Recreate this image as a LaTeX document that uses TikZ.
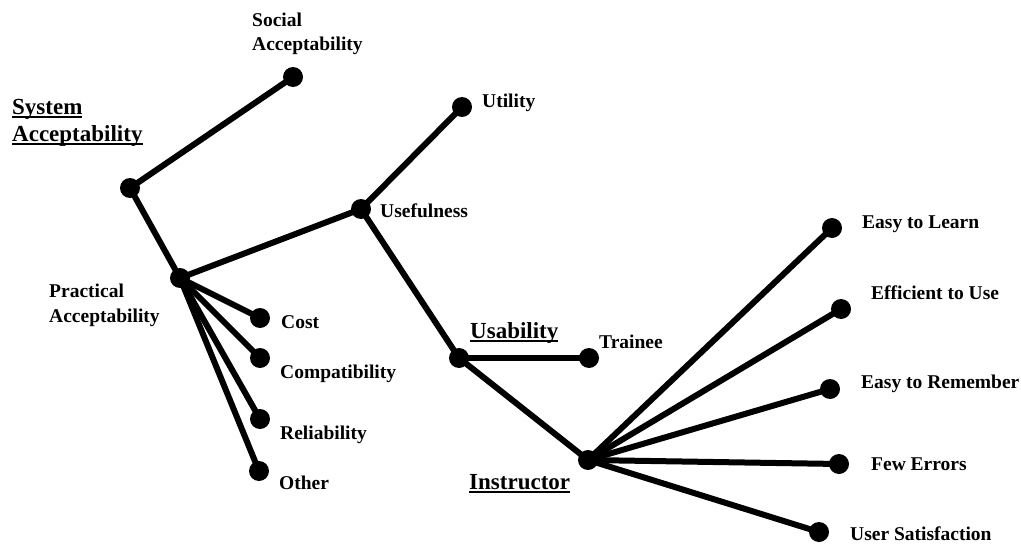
\documentclass[tikz,border=0pt]{standalone}
\usepackage{fontspec}
\setmainfont{Liberation Serif}
\newcommand{\lblfont}{\fontsize{19.5pt}{23pt}\selectfont\bfseries}
\newcommand{\ttlfont}{\fontsize{23pt}{27pt}\selectfont\bfseries}
\newcommand{\ulin}[1]{\setbox0\hbox{#1}\rlap{\rule[-3.5pt]{\wd0}{2pt}}\box0}
\tikzset{
  dot/.style={circle, fill=black, inner sep=0pt, minimum size=20pt},
  lbl/.style={anchor=base west, inner sep=0pt, font=\lblfont},
  ttl/.style={anchor=base west, inner sep=0pt, font=\ttlfont},
  conn/.style={line width=6pt, black}
}
\begin{document}
\begin{tikzpicture}[x=1pt,y=-1pt]
\useasboundingbox (0,0) rectangle (1021,546);
% dots
\node[dot] (root) at (130,188) {};
\node[dot] (social) at (293,77) {};
\node[dot] (prac) at (180,278) {};
\node[dot] (usef) at (361,209) {};
\node[dot] (util) at (462,107) {};
\node[dot] (cost) at (260,318) {};
\node[dot] (compat) at (260,358) {};
\node[dot] (rel) at (260,419) {};
\node[dot] (other) at (259,471) {};
\node[dot] (usab) at (459,358) {};
\node[dot] (train) at (589,358) {};
\node[dot] (instr) at (588,460) {};
\node[dot] (learn) at (832,228) {};
\node[dot] (eff) at (841,309) {};
\node[dot] (rem) at (830,389) {};
\node[dot] (few) at (839,464) {};
\node[dot] (sat) at (819,532) {};
% connectors
\draw[conn] (root.center) -- (social.center);
\draw[conn] (root.center) -- (prac.center);
\draw[conn] (prac.center) -- (usef.center);
\draw[conn] (usef.center) -- (util.center);
\draw[conn] (prac.center) -- (cost.center);
\draw[conn] (prac.center) -- (compat.center);
\draw[conn] (prac.center) -- (rel.center);
\draw[conn] (prac.center) -- (other.center);
\draw[conn] (usef.center) -- (usab.center);
\draw[conn] (usab.center) -- (train.center);
\draw[conn] (usab.center) -- (instr.center);
\draw[conn] (instr.center) -- (learn.center);
\draw[conn] (instr.center) -- (eff.center);
\draw[conn] (instr.center) -- (rem.center);
\draw[conn] (instr.center) -- (few.center);
\draw[conn] (instr.center) -- (sat.center);
% labels
\node[lbl] (tsocial1) at (252,26) {Social};
\node[lbl] (tsocial2) at (252,50) {Acceptability};
\node[ttl] (tsys1) at (12,114) {\ulin{System}};
\node[ttl] (tsys2) at (12,141) {\ulin{Acceptability}};
\node[lbl] (tutil) at (482,107) {Utility};
\node[lbl] (tusef) at (380,217) {Usefulness};
\node[lbl] (tprac1) at (49,297) {Practical};
\node[lbl] (tprac2) at (49,322) {Acceptability};
\node[lbl] (tcost) at (281,328) {Cost};
\node[lbl] (tcompat) at (280,378) {Compatibility};
\node[lbl] (trel) at (280,439) {Reliability};
\node[lbl] (tother) at (279,489) {Other};
\node[ttl] (tusab) at (470,338) {\ulin{Usability}};
\node[lbl] (ttrain) at (599,348) {Trainee};
\node[ttl] (tinstr) at (469,489) {\ulin{Instructor}};
\node[lbl] (tlearn) at (862,228) {Easy to Learn};
\node[lbl] (teff) at (871,299) {Efficient to Use};
\node[lbl] (trem) at (861,388) {Easy to Remember};
\node[lbl] (tfew) at (871,470) {Few Errors};
\node[lbl] (tsat) at (850,540) {User Satisfaction};
\end{tikzpicture}
\end{document}
